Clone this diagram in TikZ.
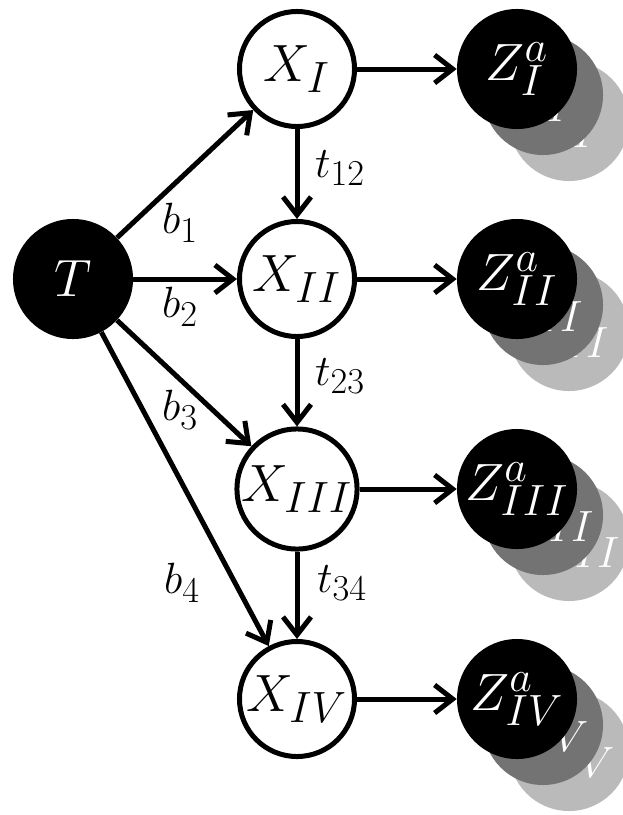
\documentclass[tikz,border=0pt]{standalone}
\usepackage{graphicx}
\usetikzlibrary{arrows.meta,positioning}

\newcommand{\nodetxt}[1]{\scalebox{1.5}{\Huge$#1$}}
\newcommand{\edgetxt}[1]{\scalebox{1.25}{\Huge$#1$}}

\begin{document}
\begin{tikzpicture}[
    x=0.025cm, y=-0.025cm,
    obs/.style={circle, draw=black, line width=1.25mm, fill=white, minimum size=2.875cm, inner sep=0pt},
    lat/.style={circle, fill=black, text=white, minimum size=3cm, inner sep=0pt},
    shadeA/.style={lat, fill=black!55},
    shadeB/.style={lat, fill=black!27},
    arr/.style={-{Straight Barb[length=4.5mm,width=7mm]}, line width=1.25mm},
    lbl/.style={inner sep=0pt}
]
    \useasboundingbox (0,0) rectangle (623,815);
    \node[lat] (T) at (73,279) {\nodetxt{T}};
    \foreach \r/\y in {I/69, II/279, III/489, IV/699} {
        \node[obs] (x\r) at (297,\y) {\nodetxt{X_{\r}}};
        \node[shadeB] (zb\r) at (569,\y+52) {\nodetxt{Z_{\r}^{a}}};
        \node[shadeA] (za\r) at (543,\y+26) {\nodetxt{Z_{\r}^{a}}};
        \node[lat] (z\r) at (517,\y) {\nodetxt{Z_{\r}^{a}}};
        \draw[arr] (x\r) -- (z\r);
    }
    \draw[arr] (T) -- (xI);
    \draw[arr] (T) -- (xII);
    \draw[arr] (T) -- (xIII);
    \draw[arr] (T) -- (xIV);
    \draw[arr] (xI) -- (xII);
    \draw[arr] (xII) -- (xIII);
    \draw[arr] (xIII) -- (xIV);
    \node[lbl] (b1) at (180,223) {\edgetxt{b_1}};
    \node[lbl] (b2) at (180,307) {\edgetxt{b_2}};
    \node[lbl] (b3) at (180,410) {\edgetxt{b_3}};
    \node[lbl] (b4) at (182,583) {\edgetxt{b_4}};
    \node[lbl] (t12) at (340,168) {\edgetxt{t_{12}}};
    \node[lbl] (t23) at (340,376) {\edgetxt{t_{23}}};
    \node[lbl] (t34) at (342,583) {\edgetxt{t_{34}}};
\end{tikzpicture}
\end{document}
